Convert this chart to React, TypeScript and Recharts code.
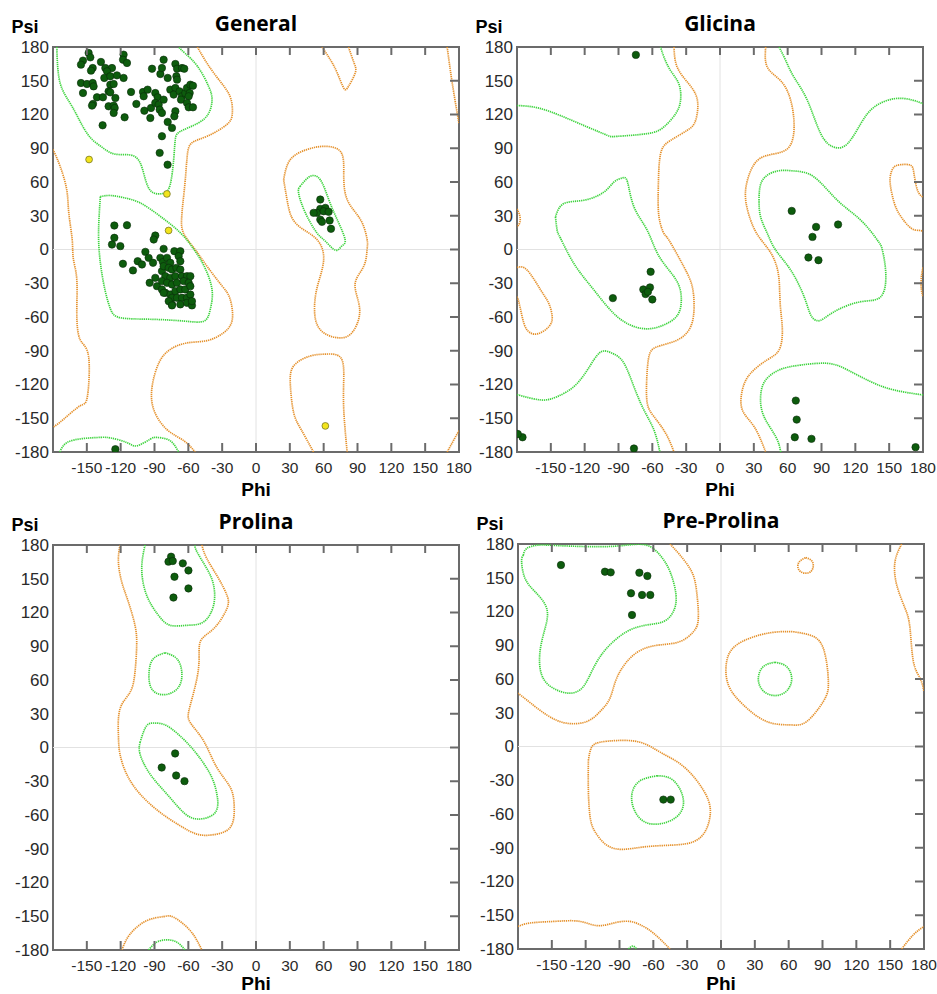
import React from 'react';
import { ScatterChart, Scatter, XAxis, YAxis, ReferenceLine, ReferenceArea } from 'recharts';

type P = [number, number];

const TICKS = [-180, -150, -120, -90, -60, -30, 0, 30, 60, 90, 120, 150, 180];

const ORANGE = '#e5912c';
const GREEN = '#3fd43f';
const FRAME = '#6b6b6b';
const DOT = '#0d5c0d';
const YELLOW = '#f2e41c';

// ---- General ----
const genGreenBeta: P[] = [[-176.6, 180], [-173.7, 148], [-163, 127], [-150, 103.5], [-138, 92], [-126, 85], [-111.5, 84], [-102.7, 77], [-98, 62], [-92, 51], [-82, 50], [-76, 58], [-73, 80], [-71.6, 97.6], [-67, 105], [-52, 112], [-42, 121], [-39, 133], [-42, 145], [-52, 163], [-63, 174.5], [-68.6, 180]];
const genGreenBottom: P[] = [[-174, -180], [-167.6, -171.6], [-153, -168], [-138, -167], [-129, -167.5], [-114.5, -171.6], [-105.6, -174.5], [-93.8, -168.6], [-88, -167], [-79, -168.6], [-73, -173], [-68.6, -180]];
const genGreenAlpha: P[] = [[-138, 47], [-139.6, 14.8], [-138, -11.8], [-134, -35.5], [-129, -53], [-120, -60.7], [-94, -62], [-64, -63.6], [-46, -63.6], [-40.5, -53], [-39, -35.5], [-46, -14.8], [-55, 0], [-67, 14.8], [-85, 29.6], [-102.7, 41.4], [-117, 46], [-129, 48], [-138, 47]];
const genOrangeMain: P[] = [[-52, 180], [-43.5, 165.7], [-33, 151], [-23, 136], [-21, 121], [-26, 111], [-43.5, 100.6], [-57, 94.7], [-61, 83], [-62.7, 62], [-64.8, 41.4], [-66, 26.6], [-64, 14], [-54, 0], [-43.5, -14.8], [-30, -32.5], [-23, -44], [-21, -62], [-28.7, -74], [-43.5, -81], [-61, -83], [-76, -88.8], [-86, -100.6], [-92, -121], [-90.8, -142], [-79, -160], [-64, -170], [-54, -180]];
const genOrangeLeft: P[] = [[-180, 89], [-173.7, 74], [-167.8, 53], [-166, 32.5], [-163, 8.9], [-162, -8], [-158.9, -26.6], [-158.9, -56], [-156, -80], [-148.5, -94.7], [-149.4, -130], [-156, -139], [-170.7, -151], [-180, -158]];
const genOrangeRightTop: P[] = [[169.5, 180], [174, 148], [180, 112]];
const genOrangeRightBottom: P[] = [[169.5, -180], [175, -170], [180, -161]];
const genOrangeTop: P[] = [[58.6, 180], [66, 168.6], [72, 157], [77.8, 143.5], [82, 145], [88, 157], [87, 165.7], [82, 180]];
const genOrangeBottom: P[] = [[51, -180], [40, -160], [33.4, -145], [30.5, -121], [33.4, -103.5], [48, -94.7], [61.5, -93], [75, -96], [77.8, -115], [77.8, -142], [80.8, -180]];
const genOrangeCenter: P[] = [[24.5, 62], [30.5, 80], [45, 88.8], [60, 91.7], [75, 87], [77.8, 68], [80.8, 44.4], [92.6, 26.6], [98.5, 8.9], [98.5, 0], [95.6, -14.8], [88, -29.6], [91, -47], [91, -62], [83.7, -75.4], [72, -78.4], [60, -74], [52.7, -62], [52.7, -41.4], [57, -23.7], [60, -5.9], [54, 8.9], [42, 17.8], [32, 28], [27.5, 44.4], [24.5, 62]];
const genGreenCenter: P[] = [[39, 56], [48, 65], [57, 62], [64.5, 44.4], [72, 26.6], [79, 8.9], [76, 3], [70.4, -0.6], [61.5, 7.4], [54, 14.8], [43.8, 32.5], [37.8, 50], [39, 56]];

const genDots: P[] = [
  [-148.4, 174.7], [-146.9, 170.8], [-153.4, 167.9], [-155.2, 164.3], [-137.5, 166.7], [-117.4, 173.2], [-117.9, 168.7], [-114.4, 165.8],
  [-144.8, 161.3], [-146.3, 159], [-133.6, 161.3], [-127.7, 161.3], [-132.1, 158.4], [-134.5, 152.5], [-129.2, 154], [-123.3, 154.8],
  [-117.4, 152.5], [-155.2, 148], [-149.9, 147.1], [-144.8, 148], [-144, 145], [-129.2, 146.5], [-126.2, 147.1], [-153.4, 139.1],
  [-141, 135.3], [-135.7, 135.3], [-130.7, 140.6], [-129.2, 139.7], [-124.7, 134.7], [-144.5, 129.4], [-145.4, 127.9], [-130.7, 127.3],
  [-126.2, 127.9], [-125.3, 125.8], [-126.2, 121.4], [-116.5, 117.5], [-136, 110.4], [-110.8, 140], [-106.1, 129.4], [-100.2, 140],
  [-99.6, 136.2], [-96.1, 142.1], [-99, 123.4], [-93.1, 125.8], [-93.7, 116.9], [-89.3, 139.1], [-87.2, 135.3], [-89.3, 130.3],
  [-86.3, 128.8], [-85.4, 124.3], [-83.4, 121.4], [-81.9, 133.2], [-84.8, 156], [-92.2, 160.7], [-81.9, 168.7], [-83.4, 161.3],
  [-78.3, 152.5], [-71.5, 164.9], [-70, 160.7], [-65.6, 161.3], [-63.6, 160.7], [-70.6, 154], [-70, 151], [-76, 142.1],
  [-71.5, 143.6], [-73, 137.7], [-67.7, 140.6], [-65.6, 136.2], [-66.5, 133.2], [-62.7, 139.1], [-61.2, 143.6], [-58.2, 146.5],
  [-55.9, 145.6], [-58.8, 139.1], [-59.7, 136.2], [-61.2, 130.3], [-59.7, 126.4], [-55.9, 126.4], [-71.5, 122.9], [-72.4, 118.4],
  [-78.3, 113.4], [-74.5, 108.1], [-83.4, 100.7], [-85.4, 85.9], [-78.4, 75.4],
  [-125.6, 21.3], [-114.4, 21.6], [-125.6, 10.4], [-127.7, 4.4], [-120.3, 3], [-89.3, 12.4], [-90.7, 8.9], [-118, -12.7],
  [-109.1, -18.6], [-104.9, -10.4], [-101.1, -13.3], [-98.1, -2.1], [-95.2, -7.4], [-91.3, -11.8], [-81.9, 0.6], [-84.8, -7.4],
  [-82.5, -11.2], [-78.9, -7.4], [-72.4, -1.5], [-67.1, -1.5], [-68.6, -5.9], [-67.1, -10.4], [-76, -11.8], [-89.3, -25.2],
  [-94.3, -29.6], [-87.8, -32.6], [-83.4, -19.2], [-81.9, -14.8], [-77.4, -16.3], [-74.5, -17.8], [-70.6, -16.3], [-67.1, -17.8],
  [-80.4, -23.7], [-76, -25.2], [-71.5, -23.7], [-65.6, -23.7], [-61.2, -23.7], [-58.2, -23.7], [-83.4, -28.1], [-78.9, -29.6],
  [-74.5, -31.1], [-70.1, -29.6], [-64.1, -28.1], [-59.7, -29.6], [-83.4, -35.5], [-80.4, -38.5], [-76, -40], [-71.5, -37],
  [-67.1, -35.5], [-62.7, -35.5], [-58.2, -32.6], [-74.5, -42.9], [-70.1, -42.9], [-65.6, -42.9], [-61.2, -42.9], [-58.2, -40],
  [-74.5, -48.8], [-67.1, -48.8], [-61.2, -47.4], [-77.4, -45.9], [-81.9, -38.5], [-74.5, -49.7], [-56.8, -49.7], [-56.8, -45.9],
  [57, 44.4], [57, 36.1], [54.1, 32.6], [51.1, 32.6], [61.5, 37], [60, 34], [64.4, 33.5], [57, 26.6], [58.5, 24.6], [65.3, 25.8], [66.5, 18.4],
  [-124.7, -177.5],
];
const genYellow: P[] = [[-148, 80], [-79, 49.4], [-77.5, 16.9], [61.5, -156.8]];

// ---- Glicina ----
const gliGreenTL: P[] = [[-180, 128], [-162, 126], [-141.4, 119], [-117.8, 109], [-100, 101.5], [-91, 100.6], [-64.5, 103], [-49.7, 109], [-39.3, 120.7], [-35, 132.5], [-36.4, 147], [-43.8, 159], [-49.7, 171], [-52.7, 180]];
const gliOrangeL: P[] = [[-40.8, 180], [-37.9, 162], [-27.5, 147], [-20, 132.5], [-21.6, 114.8], [-29, 106], [-43.8, 97], [-52.7, 85], [-54.7, 55.6], [-54.1, 29], [-49.7, 14.2], [-45.3, 8.3], [-32, -15.4], [-24.6, -33], [-23, -51], [-26, -68.6], [-37.9, -80.5], [-55.6, -86.4], [-63, -95], [-65, -116], [-64.5, -136.7], [-58.6, -148.5], [-48.2, -163.3], [-40.8, -180]];
const gliGreenBL: P[] = [[-180, -129], [-159, -133.7], [-144.4, -130.8], [-126.6, -119], [-111.8, -98], [-103, -90.2], [-94, -93], [-85.2, -101], [-76.3, -122], [-67.5, -142.6], [-58.6, -160.4], [-53.3, -180]];
const gliGreenAlpha: P[] = [[-145.9, 29], [-144.4, 17], [-141.4, 10], [-129.6, -12.4], [-111.8, -36], [-91, -59.8], [-70.4, -70], [-53.8, -68.6], [-38.8, -59.8], [-34.3, -45], [-38.8, -27.2], [-53.8, -6.5], [-64.5, 17], [-76.3, 37.9], [-82, 60], [-86.7, 63.6], [-94, 60], [-103, 51], [-120.7, 43.8], [-138.5, 40.8], [-145.9, 29]];
const gliOrangeSmallL: P[] = [[-180, -16], [-171, -18.3], [-159, -36], [-151.8, -48], [-148.8, -59.8], [-151.8, -68.6], [-162, -75], [-171, -71.6], [-175.4, -59.8], [-178.4, -46.4], [-180, -42]];
const gliOrangeTinyL: P[] = [[-180, 36], [-177.5, 30], [-177.5, 24], [-180, 20]];
const gliOrangeEdgeR: P[] = [[180, -16], [178.5, -25], [178.5, -35], [180, -42]];
const gliOrangeR: P[] = [[179.6, 46.7], [175, 53], [172, 67.5], [169, 74.9], [160.4, 75.4], [154.4, 73.4], [151.5, 67.5], [151, 57.7], [154.7, 40.8], [160.6, 29], [169.5, 18.9], [176.6, 17], [180, 16]];
const gliOrangeC: P[] = [[40.5, 180], [42, 162], [53.8, 150], [62.7, 132.5], [65.7, 109], [61.2, 91], [48, 85], [33, 79], [24.3, 61.5], [22.8, 43.8], [27.2, 26], [34, 12], [43.5, -0.6], [49.4, -12.4], [52.4, -27.2], [53.5, -50], [55.3, -71.6], [52.4, -89.3], [42, -98], [27.2, -110], [19.8, -124.9], [19.8, -142.6], [30.2, -157.4], [40.5, -180]];
const gliGreenTR: P[] = [[52.4, 180], [58.3, 168], [65.7, 153], [77.5, 132.5], [89.3, 103], [101, 91], [113, 94], [124.9, 112], [136.7, 126.6], [154.4, 134], [170, 133], [180, 129.6]];
const gliGreenC: P[] = [[34.6, 43.8], [37.6, 61.5], [50.9, 69.8], [65.7, 69.8], [83.4, 64.5], [104, 43.8], [124.9, 26], [139.6, 8.3], [144, -0.6], [147, -21.3], [142.6, -42], [124.9, -46.4], [104, -53.8], [92.3, -61.2], [86.4, -63.3], [80.5, -58.3], [74.6, -42], [62.7, -18.3], [49.4, -0.6], [42, 14.2], [36, 29], [34.6, 43.8]];
const gliGreenBR: P[] = [[53.8, -180], [49.4, -166.3], [39, -148.5], [36, -130.8], [40.5, -116], [53.8, -106.5], [71.6, -102.7], [95.3, -101.2], [113, -107], [133.7, -117.5], [154.4, -124.9], [180, -129.3]];

const gliDots: P[] = [
  [-74.6, 173], [63.6, 34.3], [85.2, 20.1], [104.7, 22.2], [82, 11.2], [78.4, -7.1], [87.3, -9.5],
  [-61.5, -19.8], [-68, -35.5], [-62.1, -33.7], [-66, -39.6], [-63.9, -37.6], [-60, -44.4], [-95, -43.2],
  [67.2, -134.3], [68, -151.2], [66.3, -166.9], [81.1, -168.3], [173.4, -175.7], [-175.1, -166.9], [-179.3, -164], [-76.3, -176.9],
];

// ---- Prolina ----
const proOrangeTop: P[] = [[-120.6, 180], [-122, 165], [-119, 147], [-113.2, 129.5], [-107.3, 108.6], [-105.8, 90.8], [-107.3, 67], [-111.7, 49], [-120.6, 34.2], [-122, 10.4], [-120.6, -5.9], [-114.7, -23.7], [-102.8, -41.4], [-85, -57.7], [-67.3, -69.5], [-52.4, -77], [-37.6, -77.5], [-22.8, -71], [-19.3, -53.3], [-22.8, -35.5], [-34.7, -17.8], [-46.5, 5.9], [-58.4, 22.3], [-58.4, 37.2], [-51, 70], [-49.5, 93.8], [-37.6, 105.6], [-25.8, 123.5], [-25.8, 135.4], [-33.2, 150.3], [-43.6, 168], [-48, 180]];
const proOrangeBottom: P[] = [[-119, -180], [-111.5, -165.7], [-96.7, -153.8], [-82, -150.3], [-73, -150.9], [-58.4, -162.7], [-48, -180]];
const proGreenBottom: P[] = [[-95.3, -180], [-88, -173], [-79, -171], [-70.2, -173], [-62.8, -180]];
const proGreenTop: P[] = [[-98.4, 180], [-101.3, 159], [-97, 135.4], [-86.5, 117.5], [-76, 108.6], [-61.3, 108.6], [-46.5, 111.6], [-37.6, 126.5], [-37.6, 144.3], [-43.6, 159], [-52.4, 174], [-54, 180]];
const proGreenMid: P[] = [[-80.6, 84.2], [-70.2, 78.9], [-65.8, 67], [-68.7, 53.6], [-80.6, 47], [-92.4, 52], [-94.8, 67], [-91, 78.9], [-80.6, 84.2]];
const proGreenLow: P[] = [[-102.8, 4.5], [-97, 19.3], [-89.5, 21.7], [-79, 19.3], [-64.3, 7.4], [-52.4, -5.9], [-40.6, -23.7], [-34.7, -41.4], [-36.1, -57.7], [-50.9, -63.6], [-64.3, -57.7], [-79, -41.4], [-93.9, -23.7], [-102.8, -5.9], [-102.8, 4.5]];

const proDots: P[] = [
  [-75.3, 169.6], [-77.6, 165.2], [-73.8, 165.8], [-64.9, 163.7], [-59.9, 157.4], [-72.3, 151.8], [-59.9, 141.4], [-73.2, 133.3],
  [-71.7, -5.3], [-83.6, -17.8], [-70.8, -24.9], [-63.4, -29.9],
];

// ---- Pre-Prolina ----
const ppGreenTL: P[] = [[-175.3, 170], [-172.3, 176], [-162, 179], [-142.8, 178.5], [-107.3, 177.6], [-83.7, 179], [-66, 179], [-54, 170], [-45.2, 155.4], [-39.9, 134.7], [-42.3, 119.9], [-51.1, 111], [-66, 108], [-83.7, 102], [-101.4, 87.3], [-113.2, 69.6], [-122, 53.3], [-134, 47.4], [-148.7, 51.8], [-159, 63.6], [-160.5, 84.4], [-156, 105], [-154.6, 122.9], [-165, 137.7], [-173.8, 149.5], [-176.8, 164.3], [-175.3, 170]];
const ppOrangeTL: P[] = [[-45.2, 180], [-36.4, 170.2], [-26, 155.4], [-21.6, 137.7], [-20.1, 114], [-24.5, 102], [-36.4, 93.3], [-54, 90.3], [-67.4, 87.3], [-80.7, 78.5], [-92.5, 60.7], [-98.4, 43], [-107.3, 31], [-119.1, 22.2], [-136.9, 20.7], [-154.6, 28.1], [-172.3, 41.4], [-180, 47.4]];
const ppOrangeR: P[] = [[160.2, 180], [154.3, 164.3], [155.8, 143.6], [163.2, 122.9], [167.6, 105.1], [170.6, 75.5], [176.5, 60.7], [180, 48.8]];
const ppOrangeCircle: P[] = [[64.1, 102], [79, 99], [90.7, 87.3], [95.2, 57.7], [90.7, 40], [76, 22.2], [61.2, 19.2], [40.5, 22.2], [19.8, 37], [6.5, 54.8], [5, 75.5], [13.9, 90.3], [34.6, 99.2], [52.3, 102], [64.1, 102]];
const ppGreenCircle: P[] = [[47.9, 74.9], [58.2, 71], [62.7, 60.1], [58.2, 49.4], [47.9, 45.3], [37.5, 49.4], [33.1, 60.1], [37.5, 71], [47.9, 74.9]];
const ppOrangePent: P[] = [[75.1, 167.9], [81.3, 163.7], [79.5, 155.4], [70.6, 155.4], [68.6, 162.8], [75.1, 167.9]];
const ppOrangeAlpha: P[] = [[-117.6, -12.4], [-114.7, -0.6], [-107.3, 3.8], [-92.5, 5.3], [-71.8, 3.8], [-54, -5], [-36.4, -15.3], [-21.6, -30.1], [-11.2, -47.8], [-9.8, -62.5], [-14.2, -75.8], [-24.5, -84.7], [-42.3, -87.6], [-65.9, -89], [-86.6, -91.4], [-101.4, -87.6], [-111.7, -75.8], [-116.1, -62.5], [-117.6, -39], [-117.6, -12.4]];
const ppGreenAlpha: P[] = [[-56.5, -26], [-42.3, -30.1], [-33.4, -47.2], [-39.3, -62.5], [-56.5, -69], [-71.8, -64], [-79.2, -47.2], [-73.3, -31.6], [-56.5, -26]];
const ppOrangeBottom: P[] = [[-180, -160], [-169.4, -156.9], [-148.7, -155.5], [-131, -154.9], [-119.1, -156.9], [-107.3, -159.3], [-92.5, -156.3], [-80.7, -155.5], [-71.8, -158.4], [-60, -165.8], [-45.2, -180]];
const ppOrangeBR: P[] = [[160.2, -180], [170.6, -167.3], [180, -159.9]];
const ppGreenTiny: P[] = [[-82.2, -180], [-78.3, -177.5], [-74.8, -180]];

const ppDots: P[] = [
  [-141.9, 161.3], [-102.9, 155.4], [-97.8, 154.8], [-72.4, 154.5], [-65.3, 151.6], [-79.8, 136.2], [-70, 134.7], [-62.7, 134.7], [-78.9, 116.9],
  [-51.1, -47.2], [-44.6, -47.2],
];

const PW = 406;
const PH = 405;
const YW = 53;
const MT = 47;
const MR = 22;
const PAGE_H = 994;
const FONT = '"Liberation Sans", Arial, sans-serif';

const toXY = (pts: P[]) => pts.map(([phi, psi]) => ({ phi, psi }));

const XTick = (props: any) => {
  const { x, y, payload } = props;
  const v = payload.value;
  const edge = v === -180 || v === 180;
  return (
    <g>
      {!edge && <line x1={x} x2={x} y1={y} y2={y - 9} stroke={FRAME} strokeWidth={2} />}
      {!edge && <line x1={x} x2={x} y1={y - PH} y2={y - PH + 8} stroke={FRAME} strokeWidth={2} />}
      {v !== -180 && (
        <text x={x} y={y + 21} textAnchor="middle" fontSize={15.5} fill="#2a2a2a" fontFamily={FONT}>
          {v}
        </text>
      )}
    </g>
  );
};

const YTick = (props: any) => {
  const { x, y, payload } = props;
  const v = payload.value;
  const edge = v === -180 || v === 180;
  return (
    <g>
      {!edge && <line x1={x + PW} x2={x + PW - 9} y1={y} y2={y} stroke={FRAME} strokeWidth={2} />}
      <text x={x - 4} y={y + 5.8} textAnchor="end" fontSize={17} fill="#2a2a2a" fontFamily={FONT}>
        {v}
      </text>
    </g>
  );
};

interface Curve {
  pts: P[];
  color: string;
}

interface PanelProps {
  title: string;
  left: number;
  top: number;
  curves: Curve[];
  dots: P[];
  yellow?: P[];
}

const Panel = ({ title, left, top, curves, dots, yellow = [] }: PanelProps) => {
  const pl = left + YW;
  const pt = top + MT;
  // keep the bottom row's "Phi" inside the page
  const phiTop = Math.min(pt + PH + 28, PAGE_H - 20);
  return (
    <>
      <div style={{ position: 'absolute', left: pl, top: pt - 34, width: PW, textAlign: 'center', font: '700 21px "Open Sans", sans-serif', lineHeight: '21px', color: '#000' }}>
        {title}
      </div>
      <div style={{ position: 'absolute', left: pl - 41.5, top: pt - 29, font: `700 18px ${FONT}`, lineHeight: '18px', color: '#000' }}>Psi</div>
      <div style={{ position: 'absolute', left: pl, top: phiTop, width: PW, textAlign: 'center', font: `700 19px ${FONT}`, lineHeight: '19px', color: '#000' }}>Phi</div>
      <div style={{ position: 'absolute', left, top }}>
        <ScatterChart width={YW + PW + MR} height={MT + PH + 45} margin={{ top: MT, right: MR, bottom: 15, left: 0 }}>
          <XAxis type="number" dataKey="phi" domain={[-180, 180]} ticks={TICKS} allowDataOverflow axisLine={false} tickLine={false} tickSize={0} tickMargin={0} height={30} tick={XTick} interval={0} />
          <YAxis type="number" dataKey="psi" domain={[-180, 180]} ticks={TICKS} allowDataOverflow axisLine={false} tickLine={false} tickSize={0} tickMargin={0} width={YW} tick={YTick} interval={0} />
          <ReferenceLine x={0} stroke="#e2e2e2" strokeWidth={1} />
          <ReferenceLine y={0} stroke="#e2e2e2" strokeWidth={1} />
          {curves.map((c, i) => (
            <Scatter
              key={'c' + i}
              data={toXY(c.pts)}
              line={{ stroke: c.color, strokeWidth: 1.7, strokeDasharray: '1.3 0.8' }}
              lineJointType="natural"
              shape={() => <g />}
              isAnimationActive={false}
            />
          ))}
          <Scatter
            data={toXY(dots)}
            isAnimationActive={false}
            shape={(p: any) => <circle cx={p.cx} cy={p.cy} r={3.7} fill={DOT} stroke="#0a2a0a" strokeWidth={0.6} />}
          />
          {yellow.length > 0 && (
            <Scatter
              data={toXY(yellow)}
              isAnimationActive={false}
              shape={(p: any) => <circle cx={p.cx} cy={p.cy} r={3.4} fill={YELLOW} stroke="#6a6a20" strokeWidth={0.7} />}
            />
          )}
          <ReferenceArea x1={-180} x2={180} y1={-180} y2={180} fill="none" stroke={FRAME} strokeWidth={2} ifOverflow="visible" />
        </ScatterChart>
      </div>
    </>
  );
};

const O = (pts: P[]): Curve => ({ pts, color: ORANGE });
const G = (pts: P[]): Curve => ({ pts, color: GREEN });

export default function App() {
  return (
    <div style={{ position: 'absolute', left: 0, top: 0, width: 937, height: PAGE_H, background: '#fff', overflow: 'hidden' }}>
      <Panel
        title="General"
        left={0}
        top={0}
        curves={[O(genOrangeMain), O(genOrangeLeft), O(genOrangeRightTop), O(genOrangeRightBottom), O(genOrangeTop), O(genOrangeBottom), O(genOrangeCenter), G(genGreenBeta), G(genGreenBottom), G(genGreenAlpha), G(genGreenCenter)]}
        dots={genDots}
        yellow={genYellow}
      />
      <Panel
        title="Glicina"
        left={464}
        top={0}
        curves={[O(gliOrangeL), O(gliOrangeSmallL), O(gliOrangeTinyL), O(gliOrangeEdgeR), O(gliOrangeR), O(gliOrangeC), G(gliGreenTL), G(gliGreenBL), G(gliGreenAlpha), G(gliGreenTR), G(gliGreenC), G(gliGreenBR)]}
        dots={gliDots}
      />
      <Panel
        title="Prolina"
        left={0}
        top={498}
        curves={[O(proOrangeTop), O(proOrangeBottom), G(proGreenBottom), G(proGreenTop), G(proGreenMid), G(proGreenLow)]}
        dots={proDots}
      />
      <Panel
        title="Pre-Prolina"
        left={465}
        top={497}
        curves={[O(ppOrangeTL), O(ppOrangeR), O(ppOrangeCircle), O(ppOrangePent), O(ppOrangeAlpha), O(ppOrangeBottom), O(ppOrangeBR), G(ppGreenTL), G(ppGreenCircle), G(ppGreenAlpha), G(ppGreenTiny)]}
        dots={ppDots}
      />
    </div>
  );
}
